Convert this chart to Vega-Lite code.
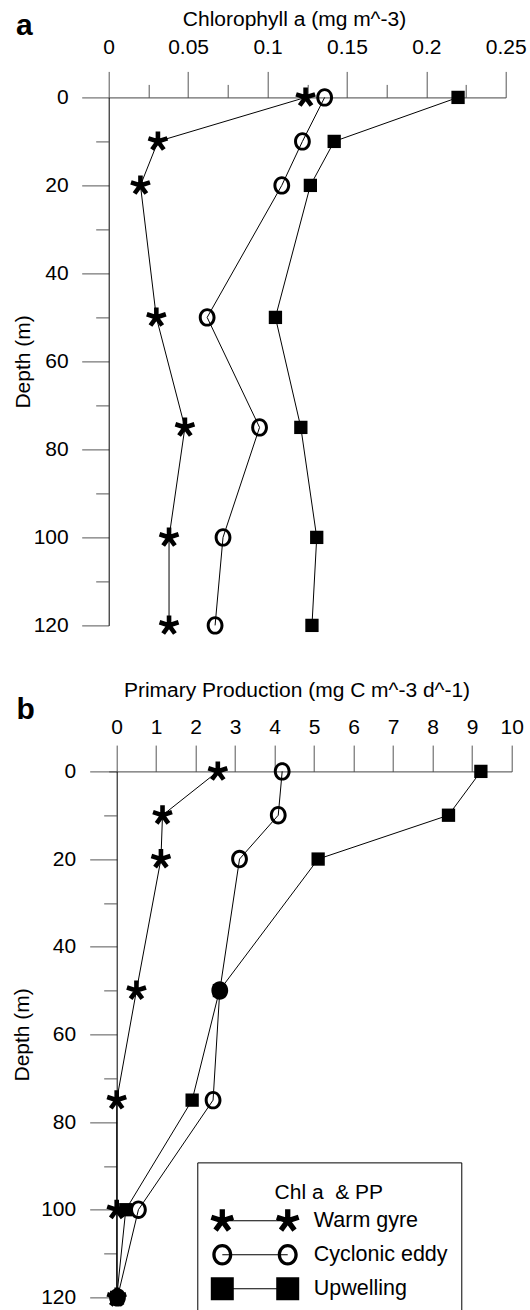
{
"$schema": "https://vega.github.io/schema/vega-lite/v6.json",
"background": "white",
"padding": {"left": 10.7, "top": 8.4, "right": 0, "bottom": 0},
"config": {
  "view": {"stroke": null},
  "font": "Liberation Sans",
  "axis": {"labelFont": "Liberation Sans", "titleFont": "Liberation Sans", "labelFontSize": 21, "titleFontSize": 21, "titleFontWeight": "normal", "labelColor": "black", "titleColor": "black", "grid": false, "tickColor": "#555", "domainColor": "black", "tickWidth": 1, "domainWidth": 1, "labelOverlap": false, "labelFlush": false}
},
"datasets": {
  "chl": [
    {"series": "Warm gyre", "depth": 0, "value": 0.124},
    {"series": "Warm gyre", "depth": 10, "value": 0.031},
    {"series": "Warm gyre", "depth": 20, "value": 0.020},
    {"series": "Warm gyre", "depth": 50, "value": 0.030},
    {"series": "Warm gyre", "depth": 75, "value": 0.048},
    {"series": "Warm gyre", "depth": 100, "value": 0.038},
    {"series": "Warm gyre", "depth": 120, "value": 0.038},
    {"series": "Cyclonic eddy", "depth": 0, "value": 0.136},
    {"series": "Cyclonic eddy", "depth": 10, "value": 0.122},
    {"series": "Cyclonic eddy", "depth": 20, "value": 0.109},
    {"series": "Cyclonic eddy", "depth": 50, "value": 0.062},
    {"series": "Cyclonic eddy", "depth": 75, "value": 0.095},
    {"series": "Cyclonic eddy", "depth": 100, "value": 0.072},
    {"series": "Cyclonic eddy", "depth": 120, "value": 0.067},
    {"series": "Upwelling", "depth": 0, "value": 0.220},
    {"series": "Upwelling", "depth": 10, "value": 0.142},
    {"series": "Upwelling", "depth": 20, "value": 0.127},
    {"series": "Upwelling", "depth": 50, "value": 0.105},
    {"series": "Upwelling", "depth": 75, "value": 0.121},
    {"series": "Upwelling", "depth": 100, "value": 0.131},
    {"series": "Upwelling", "depth": 120, "value": 0.128}
  ],
  "pp": [
    {"series": "Warm gyre", "depth": 0, "value": 2.56},
    {"series": "Warm gyre", "depth": 10, "value": 1.16},
    {"series": "Warm gyre", "depth": 20, "value": 1.12},
    {"series": "Warm gyre", "depth": 50, "value": 0.50},
    {"series": "Warm gyre", "depth": 75, "value": 0.0},
    {"series": "Warm gyre", "depth": 100, "value": 0.0},
    {"series": "Warm gyre", "depth": 120, "value": 0.0},
    {"series": "Cyclonic eddy", "depth": 0, "value": 4.19},
    {"series": "Cyclonic eddy", "depth": 10, "value": 4.09},
    {"series": "Cyclonic eddy", "depth": 20, "value": 3.11},
    {"series": "Cyclonic eddy", "depth": 50, "value": 2.61},
    {"series": "Cyclonic eddy", "depth": 75, "value": 2.44},
    {"series": "Cyclonic eddy", "depth": 100, "value": 0.55},
    {"series": "Cyclonic eddy", "depth": 120, "value": 0.02},
    {"series": "Upwelling", "depth": 0, "value": 9.22},
    {"series": "Upwelling", "depth": 10, "value": 8.40},
    {"series": "Upwelling", "depth": 20, "value": 5.10},
    {"series": "Upwelling", "depth": 50, "value": 2.60},
    {"series": "Upwelling", "depth": 75, "value": 1.91},
    {"series": "Upwelling", "depth": 100, "value": 0.23},
    {"series": "Upwelling", "depth": 120, "value": 0.0}
  ]
},
"columns": 1,
"spacing": 44,
"resolve": {"scale": {"shape": "independent"}, "legend": {"shape": "independent"}},
"concat": [
  {
    "width": 397, "height": 528,
    "resolve": {"axis": {"x": "independent", "y": "independent"}},
    "layer": [
      {
        "data": {"name": "chl"},
        "mark": {"type": "line", "color": "black", "strokeWidth": 1},
        "encoding": {
          "x": {"field": "value", "type": "quantitative", "scale": {"domain": [0, 0.25], "nice": false, "zero": false},
                "axis": {"orient": "top", "values": [0, 0.05, 0.1, 0.15, 0.2, 0.25], "format": "~g", "tickSize": 26, "labelPadding": 14, "title": "Chlorophyll a (mg m^-3)", "titlePadding": 7, "titleX": 185.3, "domainColor": "#444"}},
          "y": {"field": "depth", "type": "quantitative", "scale": {"domain": [0, 120], "reverse": true, "nice": false, "zero": false},
                "axis": {"orient": "left", "values": [0, 20, 40, 60, 80, 100, 120], "tickSize": 27, "labelPadding": 13.5, "title": "Depth (m)", "titlePadding": 0}},
          "detail": {"field": "series"},
          "order": {"field": "depth", "type": "quantitative"}
        }
      },
      {
        "data": {"name": "chl"},
        "mark": {"type": "point", "filled": true, "color": "black", "opacity": 1, "size": 400, "strokeWidth": 0},
        "encoding": {
          "x": {"field": "value", "type": "quantitative", "axis": {"orient": "top", "values": [0.025, 0.075, 0.125, 0.175, 0.225], "tickSize": 13, "labels": false, "domain": false,
                "title": "a", "titleX": -93.2, "titleY": -63.4, "titleAlign": "left", "titleBaseline": "alphabetic", "titleAngle": 0, "titleFontSize": 30, "titleFontWeight": "bold"}},
          "y": {"field": "depth", "type": "quantitative", "axis": {"orient": "left", "values": [10, 30, 50, 70, 90, 110], "tickSize": 13, "labels": false, "domain": false, "title": null}},
          "shape": {"field": "series", "type": "nominal", "legend": null,
            "scale": {"domain": ["Warm gyre", "Cyclonic eddy", "Upwelling"],
              "range": [
                "M-0.23,0.28L0.23,0.28L0.23,-1L-0.23,-1Z M-0.337,-0.132L-0.195,0.305L1.022,-0.09L0.88,-0.528Z M0.021,-0.362L-0.351,-0.092L0.402,0.944L0.774,0.674Z M0.351,-0.092L-0.021,-0.362L-0.774,0.674L-0.402,0.944Z M0.195,0.305L0.337,-0.132L-0.88,-0.528L-1.022,-0.09Z",
                "M0,-0.92A0.84,0.92 0 1,1 0,0.92A0.84,0.92 0 1,1 0,-0.92Z M0,-0.64A0.54,0.64 0 1,0 0,0.64A0.54,0.64 0 1,0 0,-0.64Z",
                "M-0.665,-0.665H0.665V0.665H-0.665Z"
              ]}}
        }
      }
    ]
  },
  {
    "width": 403, "height": 526,
    "resolve": {"axis": {"x": "independent", "y": "independent"}, "scale": {"shape": "independent"}},
    "layer": [
      {
        "data": {"name": "pp"},
        "mark": {"type": "line", "color": "black", "strokeWidth": 1},
        "encoding": {
          "x": {"field": "value", "type": "quantitative", "scale": {"domain": [-0.2025, 10], "nice": false, "zero": false},
                "axis": {"orient": "top", "values": [0, 1, 2, 3, 4, 5, 6, 7, 8, 9, 10], "tickSize": 26.3, "labelPadding": 7.3, "title": "Primary Production (mg C m^-3 d^-1)", "titlePadding": 16, "titleX": 187.8, "domainColor": "#444"}},
          "y": {"field": "depth", "type": "quantitative", "scale": {"domain": [0, 120], "reverse": true, "nice": false, "zero": false},
                "axis": {"orient": "left", "offset": -8, "values": [0, 20, 40, 60, 80, 100, 120], "tickSize": 27, "labelPadding": 14, "title": "Depth (m)", "titlePadding": 8}},
          "detail": {"field": "series"},
          "order": {"field": "depth", "type": "quantitative"}
        }
      },
      {
        "data": {"name": "pp"},
        "mark": {"type": "point", "filled": true, "color": "black", "opacity": 1, "size": 400, "strokeWidth": 0},
        "encoding": {
          "x": {"field": "value", "type": "quantitative", "axis": {"orient": "top", "ticks": false, "labels": false, "domain": false,
                "title": "b", "titleX": -92.8, "titleY": -53, "titleAlign": "left", "titleBaseline": "alphabetic", "titleAngle": 0, "titleFontSize": 30, "titleFontWeight": "bold"}},
          "y": {"field": "depth", "type": "quantitative", "axis": {"orient": "left", "offset": -8, "values": [10, 30, 50, 70, 90, 110], "tickSize": 13, "labels": false, "domain": false, "title": null}},
          "shape": {"field": "series", "type": "nominal", "legend": null,
            "scale": {"domain": ["Warm gyre", "Cyclonic eddy", "Upwelling"],
              "range": [
                "M-0.23,0.28L0.23,0.28L0.23,-1L-0.23,-1Z M-0.337,-0.132L-0.195,0.305L1.022,-0.09L0.88,-0.528Z M0.021,-0.362L-0.351,-0.092L0.402,0.944L0.774,0.674Z M0.351,-0.092L-0.021,-0.362L-0.774,0.674L-0.402,0.944Z M0.195,0.305L0.337,-0.132L-0.88,-0.528L-1.022,-0.09Z",
                "M0,-0.92A0.84,0.92 0 1,1 0,0.92A0.84,0.92 0 1,1 0,-0.92Z M0,-0.64A0.54,0.64 0 1,0 0,0.64A0.54,0.64 0 1,0 0,-0.64Z",
                "M-0.665,-0.665H0.665V0.665H-0.665Z"
              ]}}
        }
      },
      {
        "data": {"name": "pp"},
        "mark": {"type": "point", "filled": true, "color": "black", "opacity": 0, "size": 529, "strokeWidth": 0},
        "encoding": {
          "x": {"field": "value", "type": "quantitative", "axis": null},
          "y": {"field": "depth", "type": "quantitative", "axis": null},
          "shape": {"field": "series", "type": "nominal",
            "scale": {"domain": ["Warm gyre", "Cyclonic eddy", "Upwelling"],
              "range": [
                "M-0.23,0.28L0.23,0.28L0.23,-1L-0.23,-1Z M-0.337,-0.132L-0.195,0.305L1.022,-0.09L0.88,-0.528Z M0.021,-0.362L-0.351,-0.092L0.402,0.944L0.774,0.674Z M0.351,-0.092L-0.021,-0.362L-0.774,0.674L-0.402,0.944Z M0.195,0.305L0.337,-0.132L-0.88,-0.528L-1.022,-0.09Z M0,-0.045V0.045H5.69V-0.045Z M5.46,0.28L5.92,0.28L5.92,-1L5.46,-1Z M5.353,-0.132L5.495,0.305L6.712,-0.09L6.57,-0.528Z M5.711,-0.362L5.339,-0.092L6.092,0.944L6.464,0.674Z M6.041,-0.092L5.669,-0.362L4.916,0.674L5.288,0.944Z M5.885,0.305L6.027,-0.132L4.81,-0.528L4.668,-0.09Z",
                "M0,-0.94A0.87,0.94 0 1,1 0,0.94A0.87,0.94 0 1,1 0,-0.94Z M0,-0.66A0.58,0.66 0 1,0 0,0.66A0.58,0.66 0 1,0 0,-0.66Z M0,-0.045H5.69V0.045H0Z M5.69,-0.94A0.87,0.94 0 1,1 5.69,0.94A0.87,0.94 0 1,1 5.69,-0.94Z M5.69,-0.66A0.58,0.66 0 1,0 5.69,0.66A0.58,0.66 0 1,0 5.69,-0.66Z",
                "M-1,-1H1V1H-1Z M0,-0.045H5.69V0.045H0Z M4.69,-1H6.69V1H4.69Z"
              ]},
            "legend": {
              "orient": "none", "legendX": 88.6, "legendY": 391,
              "title": "Chl a\u00a0 & PP", "titleAnchor": "middle", "titleFont": "Liberation Sans", "titleFontSize": 21, "titleFontWeight": "normal", "titleColor": "black", "titlePadding": 12.4,
              "labelFont": "Liberation Sans", "labelFontSize": 21.5, "labelColor": "black", "labelOffset": 80,
              "strokeColor": "black", "fillColor": "white", "padding": 13.5, "symbolSize": 529, "rowPadding": 11,
              "symbolOpacity": 1, "symbolFillColor": "black", "symbolStrokeWidth": 0,
              "encoding": {
                "title": {"dy": {"value": 6}},
                "symbols": {"opacity": {"value": 1}, "fill": {"value": "black"}, "strokeWidth": {"value": 0}, "size": {"value": 529}}
              }
            }}
        }
      }
    ]
  }
]
}
